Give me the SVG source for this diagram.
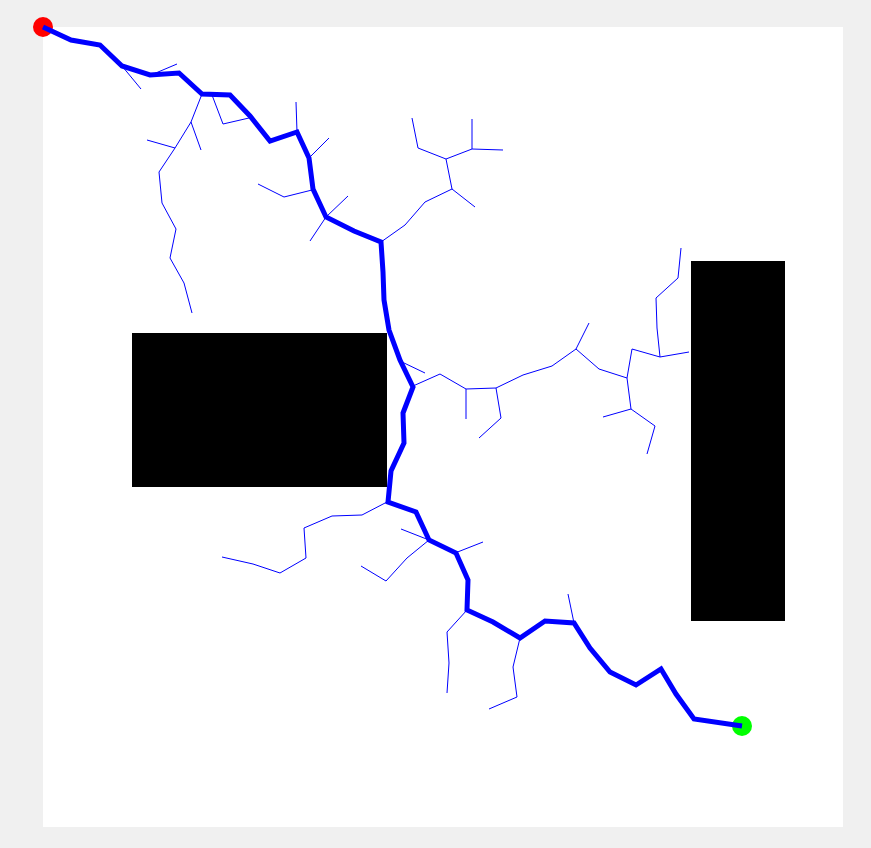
<svg xmlns="http://www.w3.org/2000/svg" width="871" height="848" viewBox="0 0 871 848">
<style>
.tree{fill:none;stroke:#0000ff;stroke-width:1;stroke-linejoin:miter}
.path{fill:none;stroke:#0000ff;stroke-width:5;stroke-linejoin:miter}
.obs{fill:#000000}
</style>
<rect x="0" y="0" width="871" height="848" fill="#f0f0f0"/>
<rect x="43" y="27" width="800" height="800" fill="#ffffff"/>
<g id="obstacles">
<rect id="obstacle1" class="obs" x="132" y="333" width="255" height="154"/>
<rect id="obstacle2" class="obs" x="691" y="261" width="94" height="360"/>
</g>
<g id="start"><circle cx="43" cy="27" r="10" fill="#ff0000"/></g>
<g id="goal"><circle cx="742" cy="726" r="10" fill="#00ff00"/></g>
<g id="tree">
<polyline class="tree" points="122,66 141,89"/>
<polyline class="tree" points="151,75 177,64"/>
<polyline class="tree" points="202,94 191,122 201,150"/>
<polyline class="tree" points="191,122 175,148 147,140"/>
<polyline class="tree" points="175,148 159,172 162,203 176,229 170,258 184,283 192,313"/>
<polyline class="tree" points="212,95 223,124 249,118"/>
<polyline class="tree" points="297,132 296,102"/>
<polyline class="tree" points="309,158 329,138"/>
<polyline class="tree" points="258,184 284,197 312,190"/>
<polyline class="tree" points="348,196 326,217 310,241"/>
<polyline class="tree" points="381,242 405,225 425,202 452,189 446,159 418,148 412,118"/>
<polyline class="tree" points="446,159 472,149 472,119"/>
<polyline class="tree" points="472,149 503,150"/>
<polyline class="tree" points="452,189 475,207"/>
<polyline class="tree" points="402,362 425,373"/>
<polyline class="tree" points="413,386 440,374 466,389 466,419"/>
<polyline class="tree" points="466,389 496,388 501,418 479,438"/>
<polyline class="tree" points="496,388 523,375 552,366 576,349 589,323"/>
<polyline class="tree" points="576,349 599,369 627,378 632,349 660,357 689,352"/>
<polyline class="tree" points="660,357 657,328 656,298 678,278 681,248"/>
<polyline class="tree" points="627,378 631,409 603,417"/>
<polyline class="tree" points="631,409 655,426 647,454"/>
<polyline class="tree" points="387,502 362,515 332,516 304,528 306,558 280,573 253,564 222,557"/>
<polyline class="tree" points="401,529 429,540 407,558 386,581 361,566"/>
<polyline class="tree" points="455,553 483,542"/>
<polyline class="tree" points="467,610 447,632 449,663 447,693"/>
<polyline class="tree" points="520,638 513,667 517,697 489,709"/>
<polyline class="tree" points="574,623 568,594"/>
</g>
<g id="connectors">
<polyline class="path" points="43,27 71,40 100,45 122,66 150,75 179,73 202,94 230,95 250,116 270,141 297,132 309,158 313,189 326,217 354,231 381,242 383,272 384,300 389,330 400,360 413,387 403,413 404,443 391,471 388,502 416,512 429,540 456,553 468,580 467,610 493,622 520,638 545,621 574,623 590,648 610,672 636,685 661,669 676,694 694,719 742,726"/>
</g>
</svg>
